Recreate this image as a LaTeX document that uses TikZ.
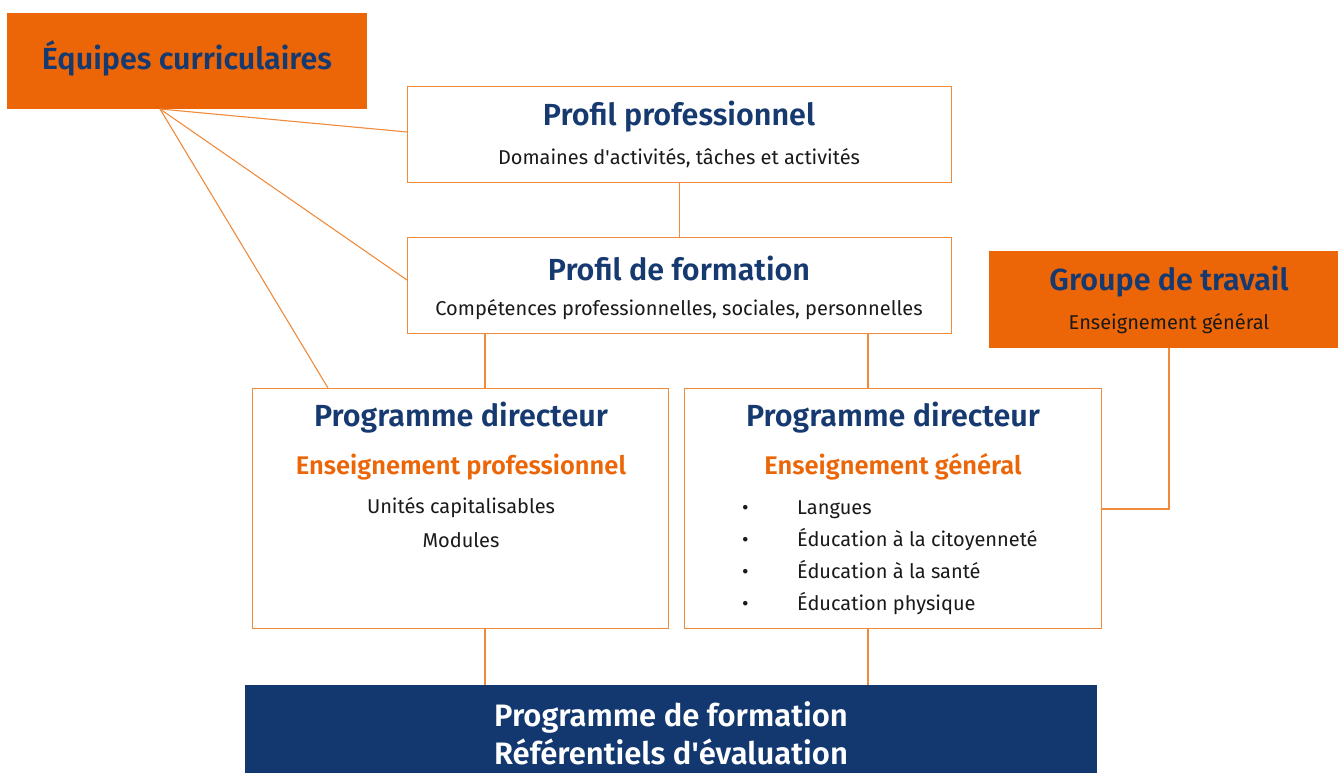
\documentclass[tikz,border=0pt]{standalone}
\usepackage{fontspec}
\setmainfont{Fira Sans}
\newfontfamily\semibold{Fira Sans SemiBold}
\definecolor{orng}{HTML}{EC6608}
\definecolor{lineor}{HTML}{F08A3C}
\definecolor{navy}{HTML}{163A70}
\definecolor{navyfill}{HTML}{12386F}
\definecolor{txt}{HTML}{1A1A1A}
\begin{document}
\begin{tikzpicture}[x=1pt,y=-1pt,
  wbox/.style={draw=lineor, line width=1.1pt, fill=white, anchor=north west, inner sep=0pt},
  obox/.style={fill=orng, anchor=north west, inner sep=0pt},
  nbox/.style={fill=navyfill, anchor=north west, inner sep=0pt},
  ttl/.style={font=\semibold\fontsize{30.5}{33}\selectfont, text=navy, inner sep=0pt},
  sub/.style={font=\fontsize{20}{22}\selectfont, text=txt, inner sep=0pt},
  osub/.style={font=\semibold\fontsize{25.5}{28}\selectfont, text=orng, inner sep=0pt},
  bl/.style={font=\fontsize{20}{22}\selectfont, text=txt, inner sep=0pt, anchor=base west},
  con/.style={draw=lineor, line width=1.1pt}]
\useasboundingbox (0,0) rectangle (1338,773);
% boxes
\node[obox, minimum width=360, minimum height=96] (eq) at (7,13) {};
\node[wbox, minimum width=544, minimum height=96] (pp) at (407,86) {};
\node[wbox, minimum width=544, minimum height=96] (pf) at (407,237) {};
\node[obox, minimum width=349, minimum height=97] (gt) at (989,251) {};
\node[wbox, minimum width=416, minimum height=240] (pdl) at (252,388) {};
\node[wbox, minimum width=417, minimum height=240] (pdr) at (684,388) {};
\node[nbox, minimum width=852, minimum height=100] (pf2) at (245,685) {};
% connectors
\coordinate (eqa) at (160,109);
\draw[con] (eqa) -- (pp.west |- 0,132);
\draw[con] (eqa) -- (407,280);
\draw[con] (eqa) -- (328,388);
\draw[con] (pp.south) -- (pf.north);
\draw[con] (485,333) -- (485,388);
\draw[con] (868,333) -- (868,388);
\draw[con] (gt.south -| 1169,0) |- (pdr.east |- 0,509);
\draw[con] (485,628) -- (485,685);
\draw[con] (868,628) -- (868,685);
% texts
\node[ttl] (eqt) at (187,58) {Équipes curriculaires};
\node[ttl] (ppt) at (679,117) {Profil professionnel};
\node[sub] (pps) at (679,158) {Domaines d\textquotesingle activités, tâches et activités};
\node[ttl] (pft) at (679,268) {Profil de formation};
\node[sub] (pfs) at (679,310) {Compétences professionnelles, sociales, personnelles};
\node[ttl] (gtt) at (1169,282) {Groupe de travail};
\node[sub] (gts) at (1169,324) {Enseignement général};
\node[ttl] (pdlt) at (461,418) {Programme directeur};
\node[osub] (pdlo) at (461,467) {Enseignement professionnel};
\node[sub] (pdl1) at (461,508) {Unités capitalisables};
\node[sub] (pdl2) at (461,540) {Modules};
\node[ttl] (pdrt) at (893,418) {Programme directeur};
\node[osub] (pdro) at (893,467) {Enseignement général};
\foreach \y/\t [count=\i] in {514/Langues, 546/Éducation à la citoyenneté, 578/Éducation à la santé, 610/Éducation physique}{
  \node[bl] (b\i) at (742,\y) {•};
  \node[bl] (l\i) at (797,\y) {\t};
}
\node[ttl, text=white, align=center, font=\semibold\fontsize{31}{38}\selectfont] (pf2t) at (671,733) {Programme de formation\\Référentiels d\textquotesingle évaluation};
\end{tikzpicture}
\end{document}
